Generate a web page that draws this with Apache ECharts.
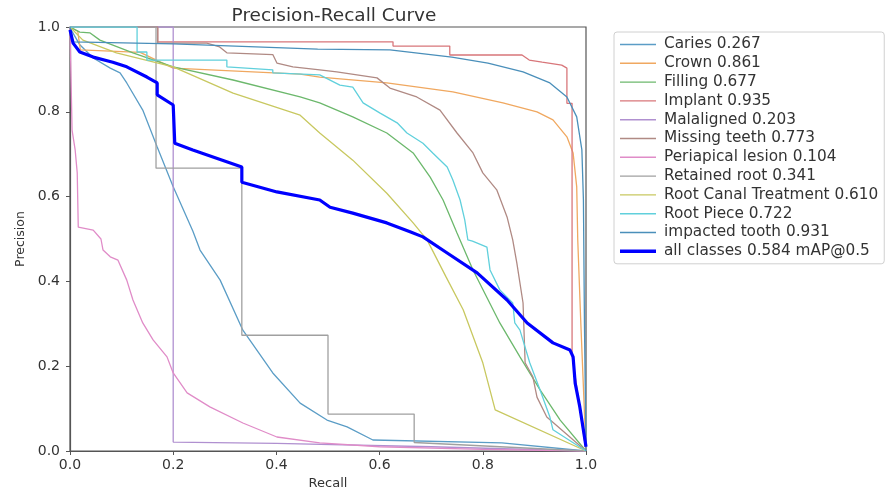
<!DOCTYPE html>
<html>
<head>
<meta charset="utf-8">
<script src="https://cdn.jsdelivr.net/npm/echarts@6/dist/echarts.min.js"></script>
<style>
  html, body { margin: 0; padding: 0; background: #fff; }
  #chart { width: 888px; height: 491px; }
</style>
</head>
<body>
<div id="chart"></div>
<script>
// [recall, precision] pairs
const CARIES = [[0, 0.998], [0.019, 0.958], [0.045, 0.927], [0.078, 0.903], [0.097, 0.892], [0.11, 0.868],
  [0.141, 0.804], [0.169, 0.717], [0.2, 0.623], [0.238, 0.519], [0.252, 0.474], [0.291, 0.403], [0.335, 0.285],
  [0.393, 0.184], [0.446, 0.113], [0.498, 0.073], [0.537, 0.057], [0.587, 0.026], [0.837, 0.019], [1, 0]];
const CROWN = [[0, 1], [0.015, 0.99], [0.02, 0.946], [0.136, 0.94], [0.2, 0.903], [0.446, 0.889], [0.484, 0.882],
  [0.614, 0.868], [0.742, 0.847], [0.839, 0.821], [0.905, 0.8], [0.936, 0.781], [0.963, 0.741], [0.975, 0.703],
  [0.982, 0.623], [0.984, 0.498], [0.99, 0.3], [1, 0]];
const FILLING = [[0, 1], [0.019, 0.988], [0.039, 0.986], [0.058, 0.969], [0.122, 0.939], [0.2, 0.906], [0.316, 0.875],
  [0.446, 0.835], [0.484, 0.821], [0.548, 0.788], [0.614, 0.75], [0.665, 0.703], [0.698, 0.646], [0.723, 0.592],
  [0.75, 0.514], [0.781, 0.427], [0.833, 0.302], [0.872, 0.222], [0.911, 0.144], [0.95, 0.073], [1, 0]];
const IMPLANT = [[0, 1], [0.17, 1], [0.17, 0.965], [0.626, 0.965], [0.626, 0.955], [0.736, 0.955], [0.736, 0.934],
  [0.876, 0.934], [0.89, 0.922], [0.915, 0.917], [0.953, 0.91], [0.963, 0.903], [0.963, 0.82], [0.973, 0.82],
  [0.973, 0.226], [1, 0]];
const MALALIGNED = [[0, 1], [0.2, 1], [0.2, 0.021], [0.4, 0.018], [0.7, 0.01], [1, 0]];
const MISSING = [[0, 1], [0.17, 1], [0.17, 0.962], [0.265, 0.962], [0.29, 0.953], [0.304, 0.939], [0.393, 0.935],
  [0.401, 0.915], [0.432, 0.906], [0.484, 0.899], [0.517, 0.894], [0.595, 0.88], [0.62, 0.856], [0.672, 0.835],
  [0.717, 0.804], [0.75, 0.75], [0.781, 0.703], [0.8, 0.656], [0.827, 0.616], [0.847, 0.552], [0.858, 0.498],
  [0.866, 0.443], [0.878, 0.349], [0.882, 0.208], [0.897, 0.175], [0.905, 0.127], [0.924, 0.08], [1, 0]];
const PERIAPICAL = [[0, 1], [0.004, 0.757], [0.01, 0.71], [0.014, 0.656], [0.016, 0.528], [0.045, 0.521], [0.06, 0.5],
  [0.064, 0.474], [0.078, 0.458], [0.093, 0.45], [0.11, 0.403], [0.122, 0.356], [0.141, 0.302], [0.161, 0.262],
  [0.188, 0.222], [0.2, 0.184], [0.227, 0.137], [0.271, 0.104], [0.335, 0.066], [0.401, 0.033], [0.484, 0.019],
  [0.6, 0.01], [0.8, 0.004], [1, 0]];
const RETAINED = [[0, 1], [0.1667, 1], [0.1667, 0.667], [0.333, 0.667], [0.333, 0.273], [0.5, 0.273], [0.5, 0.087],
  [0.667, 0.087], [0.667, 0.02], [1, 0]];
const ROOT_CANAL = [[0, 1], [0.025, 0.969], [0.09, 0.939], [0.2, 0.906], [0.316, 0.844], [0.446, 0.792], [0.484, 0.75],
  [0.548, 0.686], [0.614, 0.608], [0.665, 0.538], [0.692, 0.498], [0.729, 0.41], [0.762, 0.333], [0.8, 0.208],
  [0.824, 0.097], [1, 0]];
const ROOT_PIECE = [[0, 1], [0.13, 1], [0.13, 0.941], [0.149, 0.941], [0.149, 0.922], [0.304, 0.922], [0.304, 0.906],
  [0.393, 0.899], [0.393, 0.892], [0.484, 0.887], [0.523, 0.863], [0.548, 0.858], [0.568, 0.821], [0.601, 0.797],
  [0.634, 0.774], [0.653, 0.75], [0.684, 0.726], [0.703, 0.703], [0.731, 0.67], [0.742, 0.639], [0.756, 0.592],
  [0.765, 0.545], [0.771, 0.498], [0.78, 0.495], [0.808, 0.481], [0.814, 0.427], [0.833, 0.38], [0.858, 0.349],
  [0.862, 0.302], [0.872, 0.285], [0.891, 0.208], [0.911, 0.144], [0.93, 0.08], [0.936, 0.05], [1, 0]];
const IMPACTED = [[0, 1], [0.006, 0.965], [0.2, 0.96], [0.48, 0.948], [0.62, 0.946], [0.74, 0.929], [0.81, 0.915],
  [0.878, 0.894], [0.93, 0.868], [0.963, 0.835], [0.982, 0.788], [0.992, 0.71], [0.995, 0.592], [0.997, 0.3], [1, 0]];
const ALL_CLASSES = [[0, 0.993], [0.006, 0.962], [0.019, 0.941], [0.045, 0.929], [0.083, 0.917], [0.11, 0.906],
  [0.149, 0.882], [0.169, 0.868], [0.169, 0.84], [0.2, 0.816], [0.203, 0.726], [0.238, 0.71], [0.333, 0.67],
  [0.333, 0.634], [0.401, 0.611], [0.484, 0.592], [0.504, 0.575], [0.548, 0.561], [0.614, 0.538], [0.659, 0.517],
  [0.684, 0.505], [0.731, 0.467], [0.789, 0.42], [0.847, 0.356], [0.886, 0.302], [0.936, 0.255], [0.969, 0.238],
  [0.975, 0.222], [0.979, 0.16], [0.988, 0.104], [1, 0.01]];

const CLASS_NAMES = ["Caries", "Crown", "Filling", "Implant", "Malaligned", "Missing teeth", "Periapical lesion",
  "Retained root", "Root Canal Treatment", "Root Piece", "impacted tooth"];
const CLASS_AP = ["0.267", "0.861", "0.677", "0.935", "0.203", "0.773", "0.104", "0.341", "0.610", "0.722", "0.931"];
const CLASS_CURVES = [CARIES, CROWN, FILLING, IMPLANT, MALALIGNED, MISSING, PERIAPICAL, RETAINED, ROOT_CANAL,
  ROOT_PIECE, IMPACTED];
const CLASS_COLORS = ["#5b9dc6", "#f0a860", "#6cb86c", "#d8767a", "#b090d0", "#b08a84", "#e08cc8", "#a0a0a0",
  "#c8c860", "#60d0dc", "#4a8fba"];
const MAP_LABEL = "all classes 0.584 mAP@0.5";

const FONT = "DejaVu Sans";
const THIN_ICON = "path://M0,0 L36,0 L36,1.4 L0,1.4 Z";
const THICK_ICON = "path://M0,0 L36,0 L36,3.4 L0,3.4 Z";

const series = CLASS_NAMES.map((name, i) => ({
  name: `${name} ${CLASS_AP[i]}`,
  type: "line",
  data: CLASS_CURVES[i],
  showSymbol: false,
  symbol: "none",
  lineStyle: { color: CLASS_COLORS[i], width: 1.3 },
  itemStyle: { color: CLASS_COLORS[i] },
  z: 2
}));
series.push({
  name: MAP_LABEL,
  type: "line",
  data: ALL_CLASSES,
  showSymbol: false,
  symbol: "none",
  lineStyle: { color: "#0000ff", width: 3.2 },
  itemStyle: { color: "#0000ff" },
  z: 3
});

const chart = echarts.init(document.getElementById("chart"), null, { renderer: "canvas" });
chart.setOption({
  animation: false,
  backgroundColor: "#fff",
  title: {
    text: "Precision-Recall Curve",
    left: 329,
    textAlign: "center",
    top: 2,
    textStyle: { fontFamily: FONT, fontSize: 18.5, fontWeight: "normal", color: "#333" }
  },
  grid: {
    left: 70, top: 27, width: 516, height: 424,
    outerBoundsMode: "none",
    containLabel: false,
    show: true, borderColor: "#555", borderWidth: 1.2, backgroundColor: "#fff"
  },
  legend: {
    orient: "vertical",
    left: 614,
    top: 32,
    itemWidth: 36,
    itemHeight: 12,
    itemGap: 3.8,
    symbolKeepAspect: true,
    padding: [5, 6, 5, 6],
    borderColor: "#d0d0d0",
    borderWidth: 1,
    borderRadius: 3,
    backgroundColor: "#fff",
    textStyle: { fontFamily: FONT, fontSize: 15.3, color: "#333", padding: [0, 0, 0, 3] },
    data: series.map((s, i) => ({ name: s.name, icon: i === series.length - 1 ? THICK_ICON : THIN_ICON }))
  },
  xAxis: {
    type: "value",
    min: 0, max: 1, interval: 0.2,
    name: "Recall",
    nameLocation: "middle",
    nameGap: 23,
    nameTextStyle: { fontFamily: FONT, fontSize: 13, color: "#333" },
    axisLine: { show: true, lineStyle: { color: "#555", width: 1.2 } },
    axisTick: { show: true, length: 4, lineStyle: { color: "#555" } },
    axisLabel: { fontFamily: FONT, fontSize: 14, color: "#333", margin: 7, formatter: v => v.toFixed(1) },
    splitLine: { show: false }
  },
  yAxis: {
    type: "value",
    min: 0, max: 1, interval: 0.2,
    name: "Precision",
    nameLocation: "middle",
    nameGap: 42,
    nameTextStyle: { fontFamily: FONT, fontSize: 12.5, color: "#333" },
    axisLine: { show: true, lineStyle: { color: "#555", width: 1.2 } },
    axisTick: { show: true, length: 4, lineStyle: { color: "#555" } },
    axisLabel: { fontFamily: FONT, fontSize: 14, color: "#333", margin: 10, formatter: v => v.toFixed(1) },
    splitLine: { show: false }
  },
  series
});
</script>
</body>
</html>
